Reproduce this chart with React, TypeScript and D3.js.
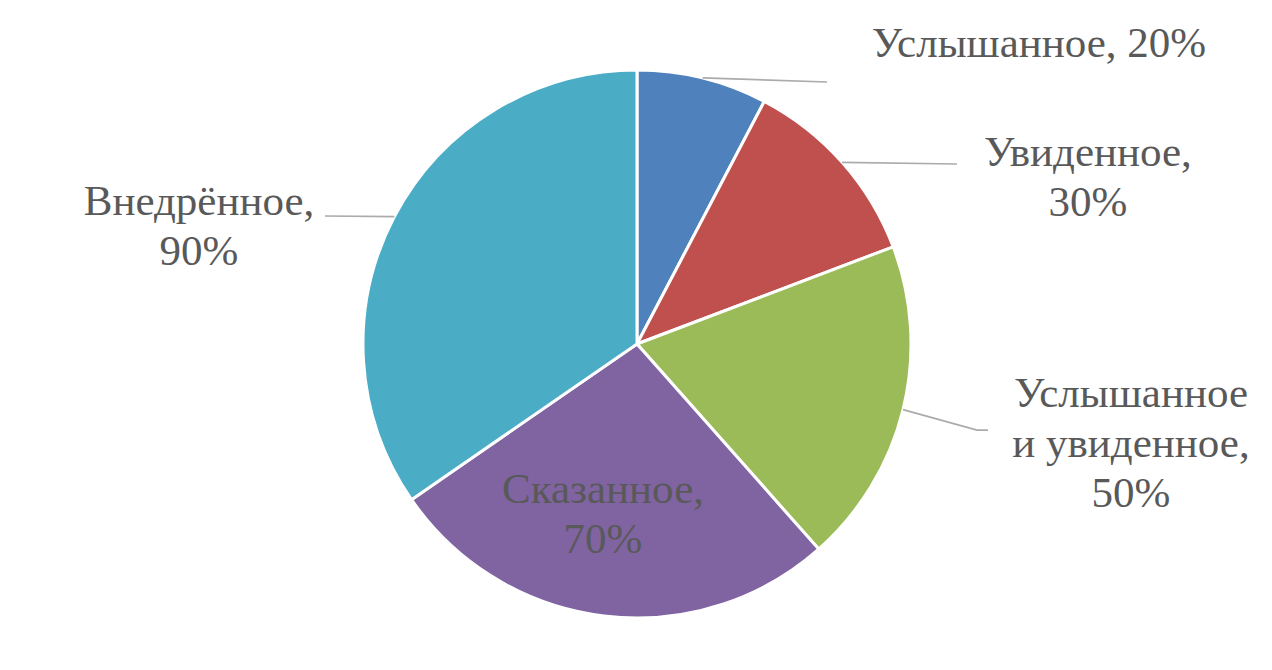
import * as d3 from 'd3';

const categories = ['Услышанное', 'Увиденное', 'Услышанное и увиденное', 'Сказанное', 'Внедрённое'];
const values = [20, 30, 50, 70, 90];
const colors = ['#4F81BD', '#C0504D', '#9BBB59', '#8064A2', '#4BACC6'];
// label text lines per slice
const labelLines = [
  ['Услышанное, 20%'],
  ['Увиденное,', '30%'],
  ['Услышанное', 'и увиденное,', '50%'],
  ['Сказанное,', '70%'],
  ['Внедрённое,', '90%'],
];

const WIDTH = 1272;
const HEIGHT = 670;
const CX = 637;
const CY = 344;
const R = 274;
const FONT = 'Liberation Serif';
const FONT_SIZE = 43;
const LINE_H = 50;

// label anchor (center x, first baseline) and leader elbow points, relative to pie centre
const LABEL_LAYOUT: { x: number; y: number; leader: [number, number][] | null }[] = [
  { x: 402, y: -287, leader: [[190, -262]] },
  { x: 451, y: -178, leader: [[320, -180]] },
  { x: 494, y: 63, leader: [[340, 86], [351, 86]] },
  { x: -34, y: 159, leader: null },
  { x: -438, y: -129, leader: [[-312, -128]] },
];

interface Slice {
  name: string;
  value: number;
  color: string;
  lines: string[];
}

const slices: Slice[] = categories.map((name, i) => ({
  name,
  value: values[i],
  color: colors[i],
  lines: labelLines[i],
}));

export default function App() {
  const pie = d3
    .pie<Slice>()
    .value((d) => d.value)
    .sort(null);
  const arcs = pie(slices);
  const arc = d3.arc<d3.PieArcDatum<Slice>>().innerRadius(0).outerRadius(R);

  return (
    <svg
      width={WIDTH}
      height={HEIGHT}
      fontFamily={FONT}
      style={{ position: 'absolute', left: 0, top: 0, background: '#fff' }}
    >
      <g transform={`translate(${CX},${CY})`}>
        {arcs.map((a, i) => (
          <path key={i} d={arc(a) ?? ''} fill={a.data.color} stroke="#fff" strokeWidth={3} />
        ))}
        {arcs.map((a, i) => {
          const layout = LABEL_LAYOUT[i];
          if (!layout.leader) return null;
          // leader starts on the rim at the slice's mid angle
          const mid = (a.startAngle + a.endAngle) / 2;
          const start: [number, number] = [R * Math.sin(mid), -R * Math.cos(mid)];
          const pts = [start, ...layout.leader];
          return (
            <path
              key={`l${i}`}
              d={d3.line()(pts) ?? ''}
              fill="none"
              stroke="#ABABAB"
              strokeWidth={1.75}
            />
          );
        })}
        {arcs.map((a, i) => {
          const layout = LABEL_LAYOUT[i];
          return a.data.lines.map((line, j) => (
            <text
              key={`t${i}-${j}`}
              x={layout.x}
              y={layout.y + j * LINE_H}
              textAnchor="middle"
              fontFamily={FONT}
              fontSize={FONT_SIZE}
              fill="#595959"
            >
              {line}
            </text>
          ));
        })}
      </g>
    </svg>
  );
}
